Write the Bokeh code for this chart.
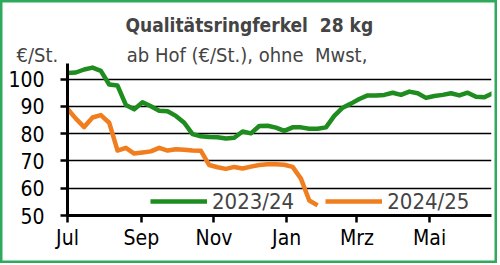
from bokeh.plotting import figure
from bokeh.models import Range1d, FixedTicker, Legend, LegendItem, Title
from bokeh.embed import file_html
from bokeh.resources import INLINE

# ---- data (weekly prices, €/St.) ----
season_days = [i * 7 for i in range(52)]
green_2324 = [102.2, 102.4, 103.5, 104.2, 103.0, 98.0, 97.6, 90.5, 88.9, 91.5,
              90.0, 88.4, 88.2, 86.5, 84.0, 79.8, 79.0, 78.8, 78.7, 78.2,
              78.5, 80.8, 80.1, 82.8, 82.9, 82.2, 81.0, 82.3, 82.3, 81.8,
              81.8, 82.3, 86.5, 89.5, 91.0, 92.7, 94.0, 94.0, 94.2, 95.0,
              94.2, 95.4, 94.8, 93.1, 93.8, 94.2, 94.8, 94.0, 95.0, 93.5,
              93.3, 94.8]
orange_2425 = [89.1, 85.5, 82.4, 85.9, 86.8, 84.0, 73.8, 74.8, 72.7, 73.1,
               73.5, 74.8, 73.8, 74.3, 74.1, 73.8, 73.7, 68.5, 67.7, 67.1,
               67.8, 67.2, 67.9, 68.5, 68.8, 68.8, 68.6, 67.8, 63.5, 55.5,
               53.7]
month_ticks = [0, 62, 123, 184, 243, 304]
month_labels = ["Jul", "Sep", "Nov", "Jan", "Mrz", "Mai"]
y_ticks = [50, 60, 70, 80, 90, 100]
series_names = ["2023/24", "2024/25"]
title_text = "Qualitätsringferkel\u00a0 28 kg"
unit_text = "€/St."
subtitle_text = "ab Hof (€/St.), ohne\u00a0 Mwst,"

FONT = "DejaVu Sans Condensed, Roboto, sans-serif"
GREEN = "#1f8c1f"
ORANGE = "#f07d1e"
FRAME_GREEN = "#2eaa5a"

p = figure(width=497, height=263, output_backend="svg", toolbar_location=None,
           x_range=Range1d(0, 356), y_range=Range1d(50, 105.7),
           min_border_left=67, min_border_right=6, min_border_top=63,
           min_border_bottom=48, background_fill_color="white",
           border_fill_alpha=0, title=None)
p.styles = {"box-shadow": "inset 0 0 0 2.5px " + FRAME_GREEN,
            "background-color": "white"}
p.outline_line_color = None
p.xgrid.grid_line_color = None
p.ygrid.grid_line_color = "black"
p.ygrid.grid_line_width = 1.5
p.ygrid.ticker = FixedTicker(ticks=y_ticks)

for ax in (p.xaxis[0], p.yaxis[0]):
    ax.axis_line_width = 3
    ax.axis_line_color = "black"
    ax.major_tick_line_width = 2.5
    ax.major_tick_line_color = "black"
    ax.major_tick_out = 7
    ax.major_tick_in = 0
    ax.minor_tick_line_color = None
    ax.major_label_text_font = FONT
    ax.major_label_text_font_size = "21px"
    ax.major_label_text_color = "black"

p.xaxis.ticker = FixedTicker(ticks=month_ticks)
p.xaxis.major_label_overrides = {t: l for t, l in zip(month_ticks, month_labels)}
p.xaxis.major_label_standoff = 3
p.yaxis.ticker = FixedTicker(ticks=y_ticks)
p.yaxis.major_label_standoff = 16

r1 = p.line(season_days[:len(green_2324)], green_2324, line_color=GREEN,
            line_width=4.5, line_join="round")
r2 = p.line(season_days[:len(orange_2425)], orange_2425, line_color=ORANGE,
            line_width=4.5, line_join="round")

legend = Legend(items=[LegendItem(label=series_names[0], renderers=[r1]),
                       LegendItem(label=series_names[1], renderers=[r2])],
                orientation="horizontal", location=(83, 0),
                glyph_width=57, glyph_height=20, label_standoff=5, spacing=31,
                padding=0, margin=0, border_line_color=None,
                background_fill_alpha=0, label_text_font=FONT,
                label_text_font_size="22px", label_height=28)
p.add_layout(legend, "center")

gap = "\u00a0" * 12
p.add_layout(Title(text=unit_text + gap + subtitle_text, align="left",
                   offset=-51, text_font=FONT, text_font_size="20px",
                   text_font_style="normal", standoff=-6), "above")
p.add_layout(Title(text=title_text, align="left", offset=58, text_font=FONT,
                   text_font_size="19px", text_font_style="bold",
                   standoff=16), "above")

open("out.html", "w").write(file_html(p, INLINE))
